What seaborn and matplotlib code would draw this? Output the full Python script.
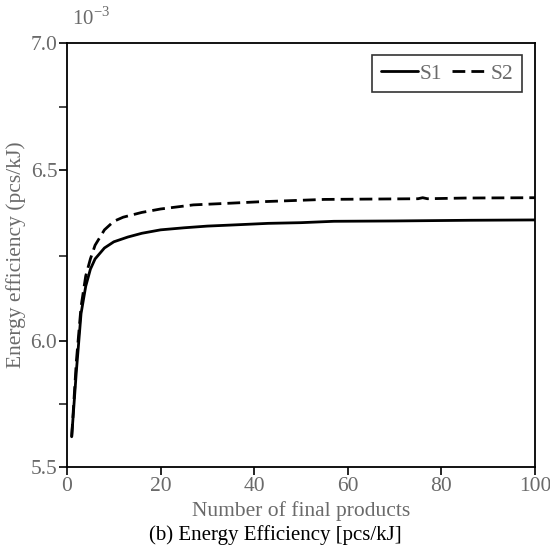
import numpy as np
import pandas as pd
import matplotlib
matplotlib.use("Agg")
import matplotlib.pyplot as plt
import seaborn as sns
from matplotlib.lines import Line2D

# Data (energy efficiency, x10^-3 pcs/kJ)
s1_x = [1, 2, 3, 4, 5, 6, 8, 10, 13, 16, 20, 25, 30, 35, 43, 50, 57, 70, 86, 100]
s1_y = [5.62, 5.88, 6.08, 6.16, 6.21, 6.24, 6.272, 6.29, 6.304, 6.315, 6.325, 6.331,
        6.336, 6.339, 6.344, 6.346, 6.350, 6.351, 6.353, 6.354]
s2_x = [1, 2, 3, 4, 5, 6, 8, 10, 12, 16, 20, 27, 35, 41, 55, 65, 75, 76, 77, 85, 100]
s2_y = [5.62, 5.92, 6.10, 6.19, 6.24, 6.28, 6.325, 6.35, 6.362, 6.376, 6.386, 6.398,
        6.403, 6.407, 6.414, 6.415, 6.416, 6.419, 6.416, 6.418, 6.419]
series_names = ["S1", "S2"]
y_major = [5.5, 6.0, 6.5, 7.0]
y_major_labels = ["5.5", "6.0", "6.5", "7.0"]
y_minor = [5.75, 6.25, 6.75]
x_ticks = [0, 20, 40, 60, 80, 100]

df = pd.concat([
    pd.DataFrame({"x": s1_x, "y": s1_y, "series": series_names[0]}),
    pd.DataFrame({"x": s2_x, "y": s2_y, "series": series_names[1]}),
])

sns.set_style("white")
plt.rcParams["font.family"] = ["Liberation Serif", "DejaVu Serif"]
plt.rcParams["mathtext.fontset"] = "custom"
plt.rcParams["mathtext.rm"] = "Liberation Serif"

fig = plt.figure(figsize=(5.5, 5.52), dpi=100)
ax = fig.add_axes([67/550, 1-467/552, (535-67)/550, (467-43)/552])

# piecewise y-scale matching the reference axis
_vals = [5.5, 6.0, 6.5, 7.0]
_pix = [0, 126, 297, 424]
def fwd(v):
    return np.interp(v, _vals, _pix)
def inv(p):
    return np.interp(p, _pix, _vals)
ax.set_yscale("function", functions=(fwd, inv))

dash = (4.6, 2.2)
sns.lineplot(data=df, x="x", y="y", style="series", color="black", linewidth=2.0,
             dashes={"S1": "", "S2": dash}, ax=ax, legend=False, sort=False)

ax.set_xlim(0, 100)
ax.set_ylim(5.5, 7.0)
ax.set_yticks(y_major)
ax.set_yticklabels(y_major_labels)
ax.set_yticks(y_minor, minor=True)
ax.set_xticks(x_ticks)

gray = "#6a6a6a"
fs = 15.5
ax.tick_params(axis="both", which="major", direction="out", length=6, width=1.2,
               labelsize=fs, labelcolor=gray, color="black", pad=1,
               left=True, bottom=True, top=False, right=False)
ax.tick_params(axis="y", which="minor", direction="out", length=6, width=1.2, left=True)
ax.tick_params(axis="x", which="major", pad=1)
for sp in ax.spines.values():
    sp.set_color("black")
    sp.set_linewidth(1.3)

ax.set_xlabel("Number of final products", fontsize=fs, color=gray, labelpad=4)
ax.set_ylabel("Energy efficiency (pcs/kJ)", fontsize=fs, color=gray, labelpad=3)

fig.text(72/550, 1-19/552, r"10$^{-3}$", fontsize=15, color=gray, ha="left", va="center")
fig.text(0.5, 1-535/552, "(b) Energy Efficiency [pcs/kJ]", fontsize=15, color="black",
         ha="center", va="center")

handles = [Line2D([], [], color="black", lw=2.0, ls="-"),
           Line2D([], [], color="black", lw=2.0, ls=(0, dash))]
leg = ax.legend(handles, series_names, loc="upper right",
                bbox_to_anchor=((522-67)/(535-67), 1-(55-43)/424),
                ncol=2, frameon=True, fancybox=False, fontsize=fs, handlelength=1.7,
                handletextpad=0.1, columnspacing=0.45, borderpad=0.4, borderaxespad=0,
                labelcolor=gray)
leg.get_frame().set_edgecolor("black")
leg.get_frame().set_linewidth(1.2)

fig.savefig("out.png", dpi=100)
